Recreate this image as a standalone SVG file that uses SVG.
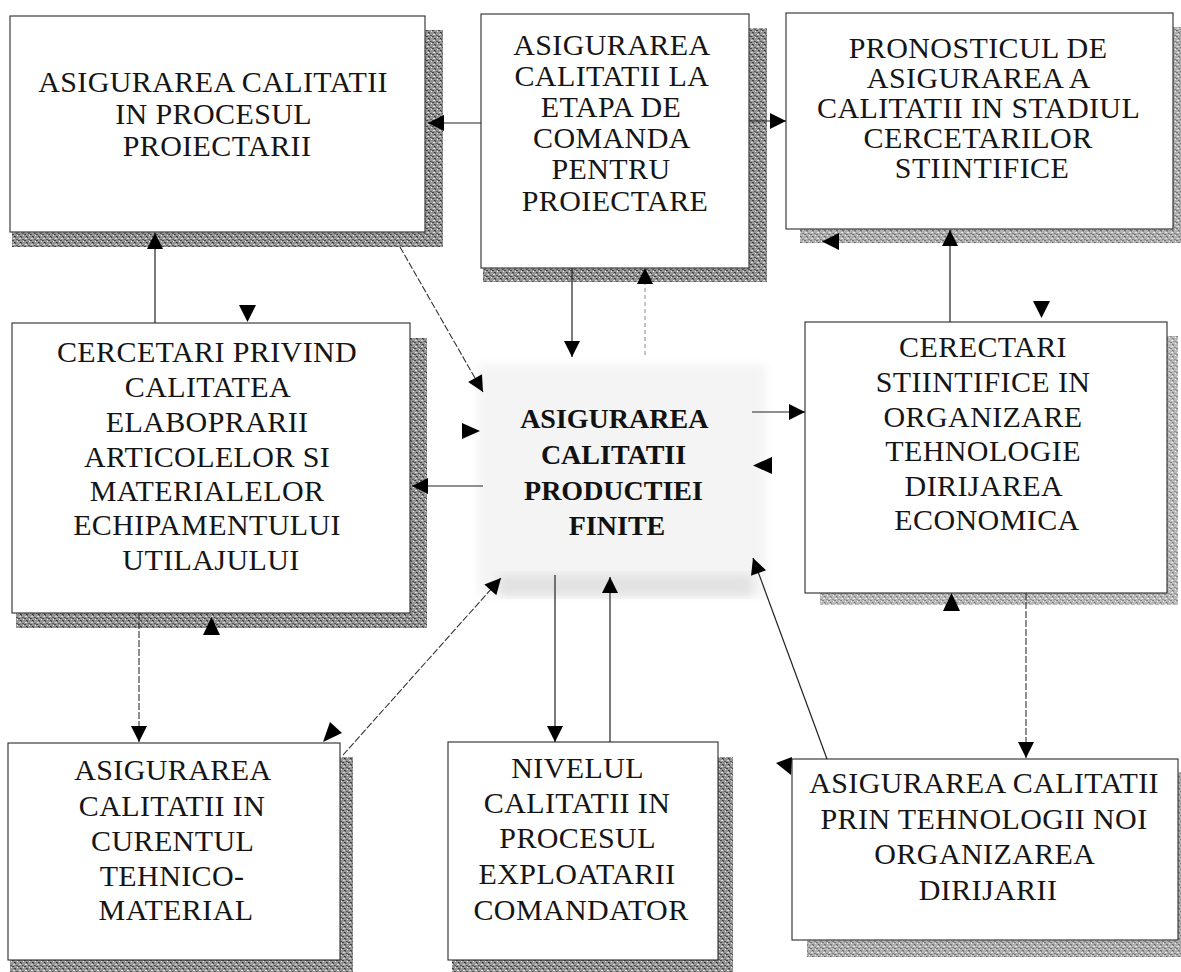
<svg xmlns="http://www.w3.org/2000/svg" width="1181" height="972" viewBox="0 0 1181 972">
<style>
  .box { fill: #ffffff; stroke: #2a2a2a; stroke-width: 1.1; }
  .shadow { fill: url(#shade); }
  .lbl { font-family: "Liberation Serif", "Times New Roman", serif; font-size: 30px; fill: #151515; text-anchor: middle; letter-spacing: 0.4px; }
  .clbl { font-family: "Liberation Serif", "Times New Roman", serif; font-size: 28px; font-weight: bold; fill: #111; text-anchor: middle; }
  .conn { stroke: #222; stroke-width: 1.2; fill: none; }
  .faint { stroke: #888; stroke-width: 1; fill: none; stroke-dasharray: 4 3; }
  .dash { stroke: #333; stroke-width: 1.1; fill: none; stroke-dasharray: 7 2; }
  .head { fill: #000; }
</style>
<defs>
  <pattern id="shade" width="6" height="6" patternUnits="userSpaceOnUse">
    <rect width="6" height="6" fill="#959595"/>
    <rect x="0" y="0" width="2" height="1" fill="#444"/>
    <rect x="3" y="2" width="1" height="2" fill="#555"/>
    <rect x="1" y="4" width="2" height="1" fill="#dcdcdc"/>
    <rect x="4" y="5" width="2" height="1" fill="#5a5a5a"/>
    <rect x="5" y="1" width="1" height="1" fill="#e6e6e6"/>
    <rect x="2" y="2" width="1" height="1" fill="#333"/>
  </pattern>
  <pattern id="lightshade" width="6" height="6" patternUnits="userSpaceOnUse">
    <rect width="6" height="6" fill="#f7f7f7"/>
    <rect x="1" y="1" width="1" height="1" fill="#c8c8c8"/>
    <rect x="4" y="3" width="1" height="1" fill="#d2d2d2"/>
    <rect x="2" y="5" width="1" height="1" fill="#dadada"/>
  </pattern>
  <pattern id="midshade" width="6" height="6" patternUnits="userSpaceOnUse">
    <rect width="6" height="6" fill="#e6e6e6"/>
    <rect x="1" y="1" width="1" height="1" fill="#999"/>
    <rect x="4" y="3" width="1" height="1" fill="#a5a5a5"/>
    <rect x="2" y="5" width="2" height="1" fill="#b5b5b5"/>
  </pattern>
  <filter id="blur" x="-10%" y="-10%" width="120%" height="120%">
    <feGaussianBlur stdDeviation="5"/>
  </filter>
  <marker id="ah" viewBox="0 0 10 10" refX="10" refY="5" markerWidth="18" markerHeight="16" markerUnits="userSpaceOnUse" orient="auto">
    <path d="M0,0 L10,5 L0,10 z" fill="#000"/>
  </marker>
</defs>

<rect width="1181" height="972" fill="#ffffff"/>

<!-- central node -->
<g id="center">
  <rect x="478" y="364" width="288" height="232" fill="url(#lightshade)" filter="url(#blur)"/>
  <rect x="498" y="574" width="254" height="22" fill="url(#midshade)" filter="url(#blur)" opacity="0.9"/>
  <text class="clbl">
    <tspan x="617" y="428">ASIGURAREA</tspan>
    <tspan x="617" y="464">CALITATII</tspan>
    <tspan x="617" y="500">PRODUCTIEI</tspan>
    <tspan x="617" y="535">FINITE</tspan>
  </text>
</g>

<g id="box1">
  <path class="shadow" d="M425,30 H443 V247 H12 V232 H425 Z"/>
  <rect class="box" x="10" y="16" width="415" height="216"/>
  <text class="lbl">
    <tspan x="217" y="92">ASIGURAREA CALITATII</tspan>
    <tspan x="217" y="124">IN PROCESUL</tspan>
    <tspan x="217" y="156">PROIECTARII</tspan>
  </text>
</g>

<g id="box2">
  <path class="shadow" d="M749,28 H767 V282 H483 V268 H749 Z"/>
  <rect class="box" x="481" y="14" width="268" height="254"/>
  <text class="lbl">
    <tspan x="615" y="55">ASIGURAREA</tspan>
    <tspan x="615" y="86">CALITATII LA</tspan>
    <tspan x="615" y="117">ETAPA DE</tspan>
    <tspan x="615" y="148">COMANDA</tspan>
    <tspan x="615" y="179">PENTRU</tspan>
    <tspan x="615" y="211">PROIECTARE</tspan>
  </text>
</g>

<g id="box3">
  <path class="shadow" d="M1173,27 H1181 V243 H800 V229 H1173 Z" opacity="0.75"/>
  <rect class="box" x="786" y="13" width="387" height="216"/>
  <text class="lbl">
    <tspan x="982" y="58">PRONOSTICUL DE</tspan>
    <tspan x="982" y="88">ASIGURAREA A</tspan>
    <tspan x="982" y="118">CALITATII IN STADIUL</tspan>
    <tspan x="982" y="148">CERCETARILOR</tspan>
    <tspan x="982" y="178">STIINTIFICE</tspan>
  </text>
</g>

<g id="box4">
  <path class="shadow" d="M410,338 H427 V628 H16 V613 H410 Z"/>
  <rect class="box" x="12" y="323" width="398" height="290"/>
  <text class="lbl">
    <tspan x="211" y="362">CERCETARI PRIVIND</tspan>
    <tspan x="211" y="397">CALITATEA</tspan>
    <tspan x="211" y="432">ELABOPRARII</tspan>
    <tspan x="211" y="467">ARTICOLELOR SI</tspan>
    <tspan x="211" y="501">MATERIALELOR</tspan>
    <tspan x="211" y="535">ECHIPAMENTULUI</tspan>
    <tspan x="211" y="570">UTILAJULUI</tspan>
  </text>
</g>

<g id="box5">
  <path class="shadow" d="M1167,336 H1178 V605 H820 V593 H1167 Z" opacity="0.65"/>
  <rect class="box" x="805" y="322" width="362" height="271"/>
  <text class="lbl">
    <tspan x="987" y="357">CERECTARI</tspan>
    <tspan x="987" y="392">STIINTIFICE IN</tspan>
    <tspan x="987" y="427">ORGANIZARE</tspan>
    <tspan x="987" y="461">TEHNOLOGIE</tspan>
    <tspan x="987" y="496">DIRIJAREA</tspan>
    <tspan x="987" y="530">ECONOMICA</tspan>
  </text>
</g>

<g id="box6">
  <path class="shadow" d="M340,757 H353 V972 H10 V960 H340 Z"/>
  <rect class="box" x="8" y="743" width="332" height="217"/>
  <text class="lbl">
    <tspan x="176" y="780">ASIGURAREA</tspan>
    <tspan x="176" y="816">CALITATII IN</tspan>
    <tspan x="176" y="851">CURENTUL</tspan>
    <tspan x="176" y="886">TEHNICO-</tspan>
    <tspan x="176" y="920">MATERIAL</tspan>
  </text>
</g>

<g id="box7">
  <path class="shadow" d="M718,757 H733 V972 H452 V960 H718 Z"/>
  <rect class="box" x="448" y="742" width="270" height="218"/>
  <text class="lbl">
    <tspan x="581" y="778">NIVELUL</tspan>
    <tspan x="581" y="813">CALITATII IN</tspan>
    <tspan x="581" y="848">PROCESUL</tspan>
    <tspan x="581" y="884">EXPLOATARII</tspan>
    <tspan x="581" y="920">COMANDATOR</tspan>
  </text>
</g>

<g id="box8">
  <path class="shadow" d="M1178,772 H1181 V957 H807 V940 H1178 Z" opacity="0.75"/>
  <rect class="box" x="792" y="759" width="386" height="181"/>
  <text class="lbl">
    <tspan x="988" y="793">ASIGURAREA CALITATII</tspan>
    <tspan x="988" y="829">PRIN TEHNOLOGII NOI</tspan>
    <tspan x="988" y="864">ORGANIZAREA</tspan>
    <tspan x="988" y="900">DIRIJARII</tspan>
  </text>
</g>

<g id="connectors">
  <!-- box2 -> box1 -->
  <line class="conn" x1="481" y1="123" x2="428" y2="123" marker-end="url(#ah)"/>
  <!-- box2 -> box3 -->
  <line class="conn" x1="749" y1="121" x2="786" y2="121" marker-end="url(#ah)"/>
  <!-- box2 -> center -->
  <line class="conn" x1="572" y1="268" x2="572" y2="357" marker-end="url(#ah)"/>
  <!-- center -> box2 (faint) -->
  <line class="faint" x1="645" y1="355" x2="645" y2="268" marker-end="url(#ah)"/>
  <!-- box1 -> center diagonal -->
  <line class="dash" x1="400" y1="247" x2="483" y2="392" marker-end="url(#ah)"/>
  <!-- box4 -> box1 -->
  <line class="conn" x1="155" y1="323" x2="155" y2="233" marker-end="url(#ah)"/>
  <!-- center -> box4 -->
  <line class="conn" x1="483" y1="486" x2="412" y2="486" marker-end="url(#ah)"/>
  <!-- center -> box5 -->
  <line class="conn" x1="752" y1="412" x2="805" y2="412" marker-end="url(#ah)"/>
  <!-- box5 -> box3 -->
  <line class="conn" x1="950" y1="322" x2="950" y2="230" marker-end="url(#ah)"/>
  <!-- box5 -> box8 -->
  <line class="dash" x1="1026" y1="593" x2="1026" y2="758" marker-end="url(#ah)"/>
  <!-- box8 -> center -->
  <line class="conn" x1="827" y1="759" x2="753" y2="558" marker-end="url(#ah)"/>
  <!-- center -> box7 -->
  <line class="conn" x1="555" y1="575" x2="555" y2="742" marker-end="url(#ah)"/>
  <!-- box7 -> center -->
  <line class="conn" x1="610" y1="742" x2="610" y2="577" marker-end="url(#ah)"/>
  <!-- box4 -> box6 -->
  <line class="dash" x1="139" y1="613" x2="139" y2="742" marker-end="url(#ah)"/>
  <!-- box6 -> center -->
  <line class="dash" x1="343" y1="755" x2="501" y2="578" marker-end="url(#ah)"/>

  <!-- standalone arrowheads -->
  <polygon class="head" points="239,305 256,305 247.5,322"/>
  <polygon class="head" points="462,423 480,431 462,439"/>
  <polygon class="head" points="772,457 772,474 753,465.5"/>
  <polygon class="head" points="1033,301 1050,301 1041.5,318"/>
  <polygon class="head" points="839,233 839,250 822,241.5"/>
  <polygon class="head" points="943,611 960,611 951.5,593"/>
  <polygon class="head" points="203,635 220,635 211.5,617"/>
  <polygon class="head" points="792,757 791,775 776,763"/>
  <polygon class="head" points="323,742 330,722 342,733"/>
</g>
</svg>
